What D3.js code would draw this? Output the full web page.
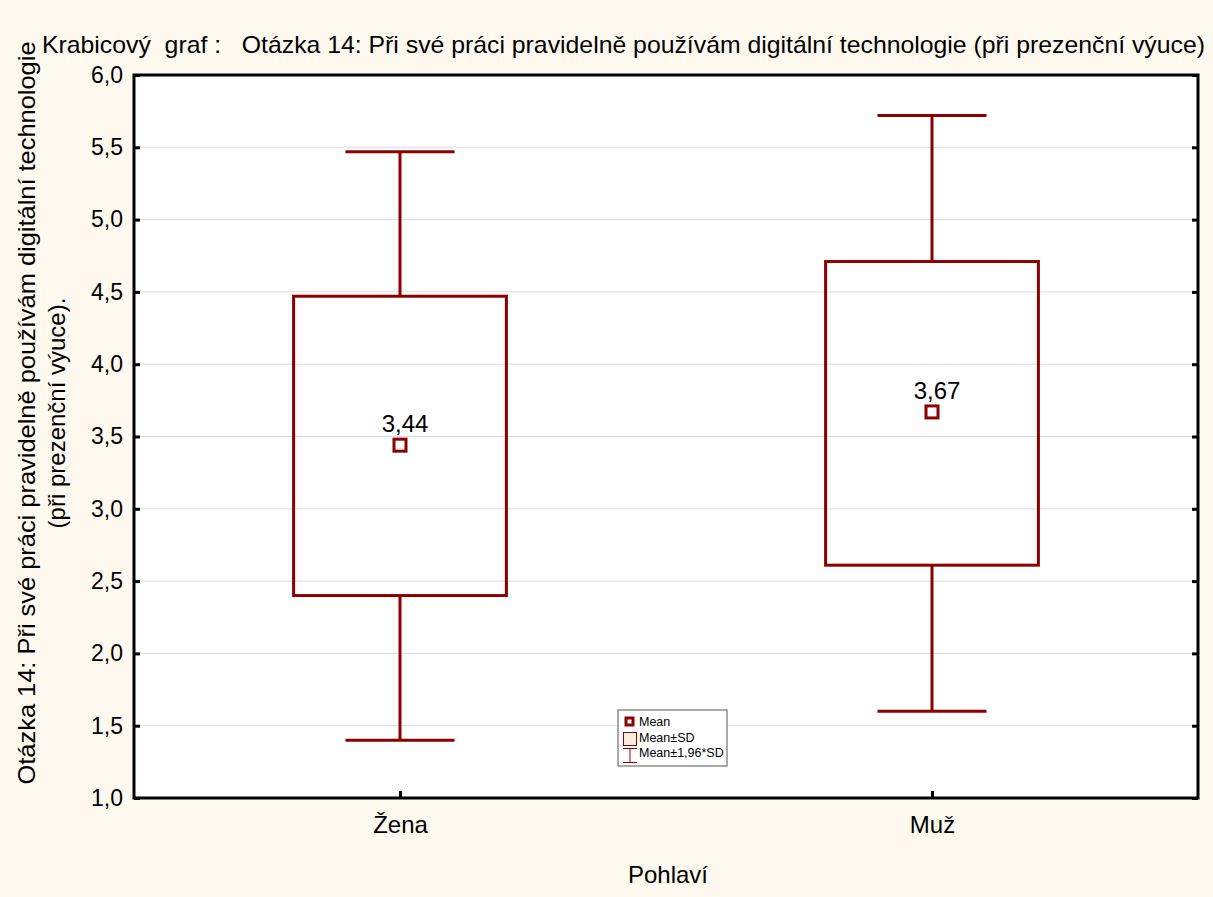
<!DOCTYPE html>
<html>
<head>
<meta charset="utf-8">
<script src="https://cdn.jsdelivr.net/npm/d3@7"></script>
<style>
  html, body { margin: 0; padding: 0; background: #fdf9ee; }
  svg { display: block; font-family: "Liberation Sans", Arial, sans-serif; }
</style>
</head>
<body>
<svg id="chart" width="1213" height="897"></svg>
<script>
// Box plot of a Likert item by gender: mean, mean±SD box, mean±1.96*SD whiskers
const categories = ["Žena", "Muž"];
const means = [3.44, 3.67];
const meanLabels = ["3,44", "3,67"];
const boxLow = [2.40, 2.61];
const boxHigh = [4.47, 4.71];
const whiskerLow = [1.40, 1.60];
const whiskerHigh = [5.47, 5.72];
const yTicks = [1.0, 1.5, 2.0, 2.5, 3.0, 3.5, 4.0, 4.5, 5.0, 5.5, 6.0];
const yTickLabels = ["1,0", "1,5", "2,0", "2,5", "3,0", "3,5", "4,0", "4,5", "5,0", "5,5", "6,0"];
const legendItems = ["Mean", "Mean±SD", "Mean±1,96*SD"];

const titleText = "Krabicový  graf :   Otázka 14: Při své práci pravidelně používám digitální technologie (při prezenční výuce)";
const yTitleLines = ["Otázka 14: Při své práci pravidelně používám digitální technologie", "(při prezenční výuce)."];
const xTitle = "Pohlaví";

const rows = categories.map((c, i) => ({
  cat: c, mean: means[i], label: meanLabels[i],
  lo: boxLow[i], hi: boxHigh[i], wlo: whiskerLow[i], whi: whiskerHigh[i]
}));

const plot = { left: 134, right: 1198, top: 75, bottom: 798 };
const red = "#8b0000";
const font = "Liberation Sans, Arial, sans-serif";

const svg = d3.select("#chart");

const x = d3.scalePoint().domain(categories).range([plot.left, plot.right]).padding(0.5);
const y = d3.scaleLinear().domain([1, 6]).range([plot.bottom, plot.top]);
const step = x.step();
const boxW = step * 0.4;
const capW = step * 0.205;

// plot background
svg.append("rect")
  .attr("x", plot.left).attr("y", plot.top)
  .attr("width", plot.right - plot.left).attr("height", plot.bottom - plot.top)
  .attr("fill", "#ffffff");

// horizontal grid
svg.append("g")
  .selectAll("line")
  .data(yTicks.slice(1, -1))
  .join("line")
  .attr("x1", plot.left).attr("x2", plot.right)
  .attr("y1", d => y(d)).attr("y2", d => y(d))
  .attr("stroke", "#dcdcdc").attr("stroke-width", 1);

// boxes and whiskers
const g = svg.append("g").selectAll("g").data(rows).join("g");

g.append("line")
  .attr("x1", d => x(d.cat)).attr("x2", d => x(d.cat))
  .attr("y1", d => y(d.whi)).attr("y2", d => y(d.hi))
  .attr("stroke", red).attr("stroke-width", 3);
g.append("line")
  .attr("x1", d => x(d.cat)).attr("x2", d => x(d.cat))
  .attr("y1", d => y(d.lo)).attr("y2", d => y(d.wlo))
  .attr("stroke", red).attr("stroke-width", 3);
g.append("line")
  .attr("x1", d => x(d.cat) - capW / 2).attr("x2", d => x(d.cat) + capW / 2)
  .attr("y1", d => y(d.whi)).attr("y2", d => y(d.whi))
  .attr("stroke", red).attr("stroke-width", 3);
g.append("line")
  .attr("x1", d => x(d.cat) - capW / 2).attr("x2", d => x(d.cat) + capW / 2)
  .attr("y1", d => y(d.wlo)).attr("y2", d => y(d.wlo))
  .attr("stroke", red).attr("stroke-width", 3);
g.append("rect")
  .attr("x", d => x(d.cat) - boxW / 2).attr("width", boxW)
  .attr("y", d => y(d.hi)).attr("height", d => y(d.lo) - y(d.hi))
  .attr("fill", "none").attr("stroke", red).attr("stroke-width", 3);
g.append("rect")
  .attr("x", d => x(d.cat) - 6).attr("y", d => y(d.mean) - 6)
  .attr("width", 12).attr("height", 12)
  .attr("fill", "#ffffff").attr("stroke", red).attr("stroke-width", 3);
g.append("text")
  .attr("x", d => x(d.cat) + 5).attr("y", d => y(d.mean) - 13)
  .attr("text-anchor", "middle").attr("font-size", 24).attr("fill", "#000")
  .attr("font-family", font)
  .text(d => d.label);

// axes
const yAxis = d3.axisLeft(y).tickValues(yTicks).tickSize(-6).tickPadding(11)
  .tickFormat((d, i) => yTickLabels[i]);
const yg = svg.append("g").attr("transform", `translate(${plot.left},0)`).call(yAxis);
yg.select(".domain").remove();
yg.selectAll(".tick line").attr("stroke", "#000").attr("stroke-width", 3);
yg.selectAll(".tick text").attr("font-size", 23).attr("fill", "#000")
  .attr("font-family", font);

const yRight = d3.axisRight(y).tickValues(yTicks).tickSize(-6).tickFormat("");
const yr = svg.append("g").attr("transform", `translate(${plot.right},0)`).call(yRight);
yr.select(".domain").remove();
yr.selectAll(".tick line").attr("stroke", "#000").attr("stroke-width", 3);

const xAxis = d3.axisBottom(x).tickSize(-7).tickPadding(18);
const xg = svg.append("g").attr("transform", `translate(0,${plot.bottom})`).call(xAxis);
xg.select(".domain").remove();
xg.selectAll(".tick line").attr("stroke", "#000").attr("stroke-width", 3);
xg.selectAll(".tick text").attr("font-size", 24).attr("fill", "#000")
  .attr("font-family", font);

// frame
svg.append("rect")
  .attr("x", plot.left).attr("y", plot.top)
  .attr("width", plot.right - plot.left).attr("height", plot.bottom - plot.top)
  .attr("fill", "none").attr("stroke", "#000").attr("stroke-width", 3);

// titles
svg.append("text")
  .attr("x", 42).attr("y", 53)
  .attr("font-size", 24).attr("fill", "#000")
  .attr("textLength", 1163).attr("lengthAdjust", "spacingAndGlyphs")
  .attr("xml:space", "preserve")
  .style("white-space", "pre")
  .text(titleText);

const yt = svg.append("text")
  .attr("transform", "translate(0,413) rotate(-90)")
  .attr("text-anchor", "middle").attr("font-size", 24).attr("fill", "#000");
yt.append("tspan").attr("x", 0).attr("y", 35)
  .attr("textLength", 743).attr("lengthAdjust", "spacingAndGlyphs")
  .text(yTitleLines[0]);
yt.append("tspan").attr("x", 0).attr("y", 65)
  .text(yTitleLines[1]);

svg.append("text")
  .attr("x", (plot.left + plot.right) / 2 + 2).attr("y", 883)
  .attr("text-anchor", "middle").attr("font-size", 24).attr("fill", "#000")
  .text(xTitle);

// legend
const lg = svg.append("g").attr("transform", "translate(618,710)");
lg.append("rect").attr("width", 109).attr("height", 56)
  .attr("fill", "#ffffff").attr("stroke", "#555").attr("stroke-width", 1);
lg.selectAll("text").data(legendItems).join("text")
  .attr("x", 21).attr("y", (d, i) => 16 + i * 15.5)
  .attr("font-size", 12.5).attr("fill", "#000").text(d => d);
// Mean symbol
lg.append("rect").attr("x", 8).attr("y", 8).attr("width", 7).attr("height", 7)
  .attr("fill", "#fff").attr("stroke", red).attr("stroke-width", 3);
// Mean±SD symbol
lg.append("rect").attr("x", 5.5).attr("y", 22.5).attr("width", 13).attr("height", 13)
  .attr("fill", "#fdeee0").attr("stroke", red).attr("stroke-width", 1);
// Mean±1.96*SD symbol
const wl = lg.append("g").attr("stroke", red).attr("stroke-width", 1);
wl.append("line").attr("x1", 5).attr("x2", 19).attr("y1", 38.5).attr("y2", 38.5);
wl.append("line").attr("x1", 5).attr("x2", 19).attr("y1", 52.5).attr("y2", 52.5);
wl.append("line").attr("x1", 12).attr("x2", 12).attr("y1", 38.5).attr("y2", 52.5);
</script>
</body>
</html>
